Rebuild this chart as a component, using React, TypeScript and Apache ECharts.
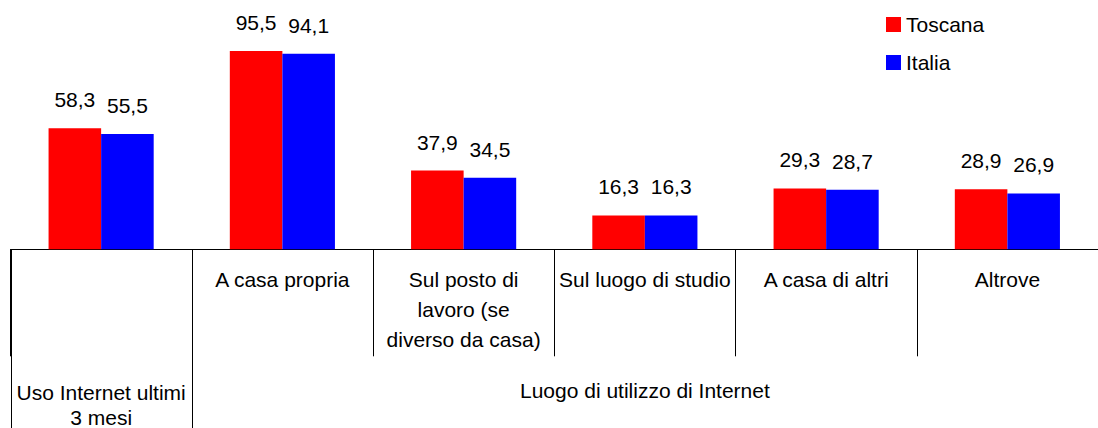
import React, { useEffect, useRef } from "react";
import * as echarts from "echarts";

const categories = [
  "",
  "A casa propria",
  "Sul posto di\nlavoro (se\ndiverso da casa)",
  "Sul luogo di studio",
  "A casa di altri",
  "Altrove",
];
const groupLabels = ["Uso Internet ultimi\n3 mesi", "Luogo di utilizzo di Internet"];
const groupSpans = [1, 5];
const seriesNames = ["Toscana", "Italia"];
const toscana = [58.3, 95.5, 37.9, 16.3, 29.3, 28.9];
const italia = [55.5, 94.1, 34.5, 16.3, 28.7, 26.9];

const FONT = "'Liberation Sans', Arial, sans-serif";

export default function App() {
  const ref = useRef<HTMLDivElement>(null);
  useEffect(() => {
    document.body.style.margin = "0";
    if (!ref.current) return;
    const chart = echarts.init(ref.current, undefined, { renderer: "svg" });
    const fmt = (p: any) => Number(p.value).toFixed(1).replace(".", ",");
    chart.setOption({
      animation: false,
      backgroundColor: "#ffffff",
      textStyle: { fontFamily: FONT },
      legend: {
        orient: "vertical",
        left: 886,
        top: 14,
        padding: 0,
        itemWidth: 15,
        itemHeight: 15,
        itemGap: 17,
        icon: "rect",
        textStyle: { fontSize: 21, lineHeight: 21, color: "#000", fontFamily: FONT },
        data: seriesNames,
      },
      grid: { left: 10.5, top: 0, width: 1101, height: 249.3 },
      xAxis: {
        type: "category",
        data: categories,
        axisLine: { lineStyle: { color: "#000", width: 1 } },
        axisTick: { show: true, interval: 0, length: 107, lineStyle: { color: "#000" } },
        axisLabel: {
          interval: 0,
          fontSize: 21,
          lineHeight: 30,
          margin: 15,
          color: "#000",
          fontFamily: FONT,
          align: "center",
        },
        splitLine: { show: false },
      },
      yAxis: {
        type: "value",
        min: 0,
        max: 120,
        show: false,
        splitLine: { show: false },
      },
      series: [
        {
          name: seriesNames[0],
          type: "bar",
          data: toscana,
          itemStyle: { color: "#FF0000" },
          barGap: "0%",
          barCategoryGap: "42%",
          label: { show: true, position: "top", distance: 18, fontSize: 21, color: "#000", fontFamily: FONT, formatter: fmt },
        },
        {
          name: seriesNames[1],
          type: "bar",
          data: italia,
          itemStyle: { color: "#0000FF" },
          barGap: "0%",
          barCategoryGap: "42%",
          label: { show: true, position: "top", distance: 18, fontSize: 21, color: "#000", fontFamily: FONT, formatter: fmt },
        },
      ],
    });

    const c0 = chart.convertToPixel({ xAxisIndex: 0 }, 0) as number;
    const c1 = chart.convertToPixel({ xAxisIndex: 0 }, 1) as number;
    const bw = c1 - c0;
    const baseY = chart.convertToPixel({ yAxisIndex: 0 }, 0) as number;
    const H = 428;
    const graphics: any[] = [];
    let start = 0;
    groupSpans.forEach((span, gi) => {
      const left = c0 - bw / 2 + start * bw;
      const right = left + span * bw;
      graphics.push({
        type: "line",
        shape: { x1: Math.round(left) + 0.5, y1: baseY, x2: Math.round(left) + 0.5, y2: H },
        style: { stroke: "#000", lineWidth: 1 },
        silent: true,
      });
      const lines = groupLabels[gi].split("\n").length;
      graphics.push({
        type: "text",
        x: (left + right) / 2,
        y: lines > 1 ? baseY + 130.2 : baseY + 140.7,
        style: {
          text: groupLabels[gi],
          font: "21px " + FONT,
          fill: "#000",
          align: "center",
          verticalAlign: lines > 1 ? "top" : "middle",
          lineHeight: 25,
        },
        silent: true,
      });
      start += span;
    });
    chart.setOption({ graphic: graphics });

    return () => chart.dispose();
  }, []);
  return <div ref={ref} style={{ width: 1098, height: 428 }} />;
}
